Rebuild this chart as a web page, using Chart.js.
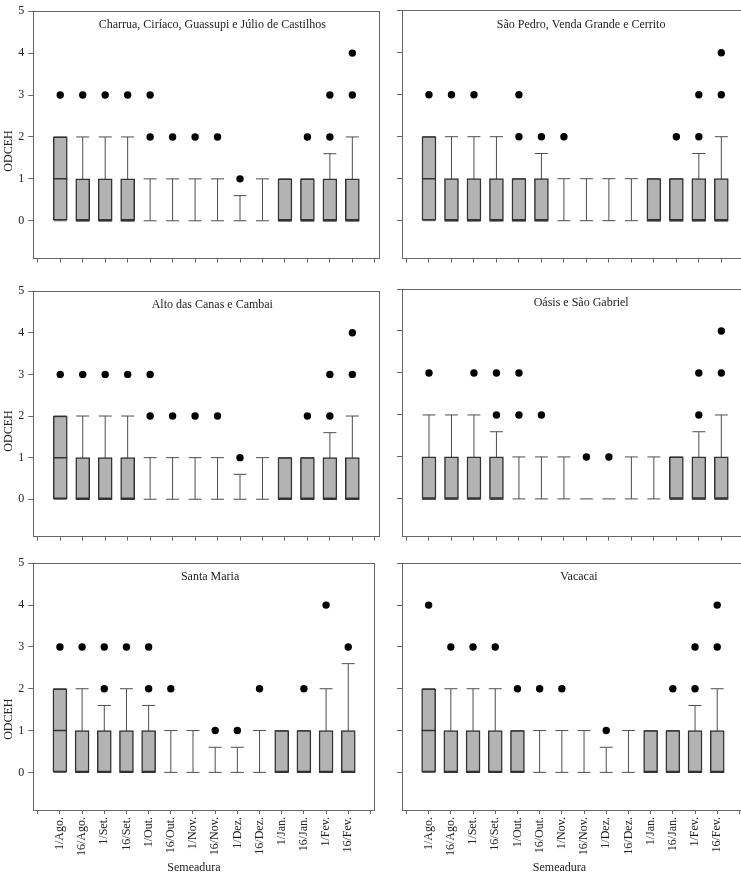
<!DOCTYPE html>
<html>
<head>
<meta charset="utf-8">
<script src="https://cdn.jsdelivr.net/npm/chart.js@4.4.1/dist/chart.umd.min.js"></script>
<style>
  html, body { margin: 0; padding: 0; background: #fff; }
  body { position: relative; width: 741px; height: 875px; overflow: hidden; }
  canvas { position: absolute; }
</style>
</head>
<body>
<script>
// sowing dates (x categories) and axis ticks
const categories = ['1/Ago.', '16/Ago.', '1/Set.', '16/Set.', '1/Out.', '16/Out.', '1/Nov.', '16/Nov.', '1/Dez.', '16/Dez.', '1/Jan.', '16/Jan.', '1/Fev.', '16/Fev.']
const yTicks = [0, 1, 2, 3, 4, 5]
const xTicks = [0, 1, 2, 3, 4, 5, 6, 7, 8, 9, 10, 11, 12, 13, 14, 15]

// Charrua, Ciríaco, Guassupi e Júlio de Castilhos
const charruaQ1 = [0, 0, 0, 0, 0, 0, 0, 0, 0, 0, 0, 0, 0, 0]
const charruaMedian = [1, 0, 0, 0, 0, 0, 0, 0, 0, 0, 0, 0, 0, 0]
const charruaQ3 = [2, 1, 1, 1, 0, 0, 0, 0, 0, 0, 1, 1, 1, 1]
const charruaLow = [0, 0, 0, 0, 0, 0, 0, 0, 0, 0, 0, 0, 0, 0]
const charruaHigh = [2, 2, 2, 2, 1, 1, 1, 1, 0.6, 1, 1, 1, 1.6, 2]
const charruaOutliers = [[3], [3], [3], [3], [2, 3], [2], [2], [2], [1], [], [], [2], [2, 3], [3, 4]]

// São Pedro, Venda Grande e Cerrito
const saoPedroQ1 = [0, 0, 0, 0, 0, 0, 0, 0, 0, 0, 0, 0, 0, 0]
const saoPedroMedian = [1, 0, 0, 0, 0, 0, 0, 0, 0, 0, 0, 0, 0, 0]
const saoPedroQ3 = [2, 1, 1, 1, 1, 1, 0, 0, 0, 0, 1, 1, 1, 1]
const saoPedroLow = [0, 0, 0, 0, 0, 0, 0, 0, 0, 0, 0, 0, 0, 0]
const saoPedroHigh = [2, 2, 2, 2, 1, 1.6, 1, 1, 1, 1, 1, 1, 1.6, 2]
const saoPedroOutliers = [[3], [3], [3], [], [2, 3], [2], [2], [], [], [], [], [2], [2, 3], [3, 4]]

// Alto das Canas e Cambai
const altoQ1 = [0, 0, 0, 0, 0, 0, 0, 0, 0, 0, 0, 0, 0, 0]
const altoMedian = [1, 0, 0, 0, 0, 0, 0, 0, 0, 0, 0, 0, 0, 0]
const altoQ3 = [2, 1, 1, 1, 0, 0, 0, 0, 0, 0, 1, 1, 1, 1]
const altoLow = [0, 0, 0, 0, 0, 0, 0, 0, 0, 0, 0, 0, 0, 0]
const altoHigh = [2, 2, 2, 2, 1, 1, 1, 1, 0.6, 1, 1, 1, 1.6, 2]
const altoOutliers = [[3], [3], [3], [3], [2, 3], [2], [2], [2], [1], [], [], [2], [2, 3], [3, 4]]

// Oásis e São Gabriel
const oasisQ1 = [0, 0, 0, 0, 0, 0, 0, 0, 0, 0, 0, 0, 0, 0]
const oasisMedian = [0, 0, 0, 0, 0, 0, 0, 0, 0, 0, 0, 0, 0, 0]
const oasisQ3 = [1, 1, 1, 1, 0, 0, 0, 0, 0, 0, 0, 1, 1, 1]
const oasisLow = [0, 0, 0, 0, 0, 0, 0, 0, 0, 0, 0, 0, 0, 0]
const oasisHigh = [2, 2, 2, 1.6, 1, 1, 1, 0, 0, 1, 1, 1, 1.6, 2]
const oasisOutliers = [[3], [], [3], [2, 3], [2, 3], [2], [], [1], [1], [], [], [], [2, 3], [3, 4]]

// Santa Maria
const santaMariaQ1 = [0, 0, 0, 0, 0, 0, 0, 0, 0, 0, 0, 0, 0, 0]
const santaMariaMedian = [1, 0, 0, 0, 0, 0, 0, 0, 0, 0, 0, 0, 0, 0]
const santaMariaQ3 = [2, 1, 1, 1, 1, 0, 0, 0, 0, 0, 1, 1, 1, 1]
const santaMariaLow = [0, 0, 0, 0, 0, 0, 0, 0, 0, 0, 0, 0, 0, 0]
const santaMariaHigh = [2, 2, 1.6, 2, 1.6, 1, 1, 0.6, 0.6, 1, 1, 1, 2, 2.6]
const santaMariaOutliers = [[3], [3], [2, 3], [3], [2, 3], [2], [], [1], [1], [2], [], [2], [4], [3]]

// Vacacai
const vacacaiQ1 = [0, 0, 0, 0, 0, 0, 0, 0, 0, 0, 0, 0, 0, 0]
const vacacaiMedian = [1, 0, 0, 0, 0, 0, 0, 0, 0, 0, 0, 0, 0, 0]
const vacacaiQ3 = [2, 1, 1, 1, 1, 0, 0, 0, 0, 0, 1, 1, 1, 1]
const vacacaiLow = [0, 0, 0, 0, 0, 0, 0, 0, 0, 0, 0, 0, 0, 0]
const vacacaiHigh = [2, 2, 2, 2, 1, 1, 1, 1, 0.6, 1, 1, 1, 1.6, 2]
const vacacaiOutliers = [[4], [3], [3], [3], [2], [2], [2], [], [1], [], [], [2], [2, 3], [3, 4]]

Chart.defaults.font.family = "'Liberation Serif', 'Times New Roman', serif"
Chart.defaults.font.size = 12
Chart.defaults.color = '#222'

// region name written inside the plot frame
const panelLabel = {
  id: 'panelLabel',
  afterDraw(chart, args, opts) {
    const { ctx, chartArea } = chart
    ctx.save()
    ctx.font = "12px 'Liberation Serif', 'Times New Roman', serif"
    ctx.fillStyle = '#222'
    ctx.textAlign = 'center'
    ctx.textBaseline = 'middle'
    ctx.fillText(opts.text, (chartArea.left + chartArea.right) / 2 + 6, chartArea.top + 14)
    ctx.restore()
  }
}

// grid placement of the six panels
const cols = [
  { left: 0, width: 388, yWidth: 17.6, showY: true },
  { left: 362, width: 395, yWidth: 40, showY: false }
]
const rows = [
  { top: 0, height: 292, padTop: 10.7, padBottom: 0.7, xHeight: 32.8, showX: false },
  { top: 280, height: 293, padTop: 9, padBottom: 0, xHeight: 36.3, showX: false },
  { top: 550, height: 325, padTop: 13.3, padBottom: 0, xHeight: 50.6, showX: true }
]

const panels = [
  { name: 'Charrua, Ciríaco, Guassupi e Júlio de Castilhos', q1: charruaQ1, median: charruaMedian, q3: charruaQ3, low: charruaLow, high: charruaHigh, outliers: charruaOutliers },
  { name: 'São Pedro, Venda Grande e Cerrito', q1: saoPedroQ1, median: saoPedroMedian, q3: saoPedroQ3, low: saoPedroLow, high: saoPedroHigh, outliers: saoPedroOutliers },
  { name: 'Alto das Canas e Cambai', q1: altoQ1, median: altoMedian, q3: altoQ3, low: altoLow, high: altoHigh, outliers: altoOutliers },
  { name: 'Oásis e São Gabriel', q1: oasisQ1, median: oasisMedian, q3: oasisQ3, low: oasisLow, high: oasisHigh, outliers: oasisOutliers },
  { name: 'Santa Maria', q1: santaMariaQ1, median: santaMariaMedian, q3: santaMariaQ3, low: santaMariaLow, high: santaMariaHigh, outliers: santaMariaOutliers },
  { name: 'Vacacai', q1: vacacaiQ1, median: vacacaiMedian, q3: vacacaiQ3, low: vacacaiLow, high: vacacaiHigh, outliers: vacacaiOutliers }
]

const frameColor = '#666'

function makePanel(p, row, col) {
  const canvas = document.createElement('canvas')
  canvas.width = col.width
  canvas.height = row.height
  canvas.style.left = col.left + 'px'
  canvas.style.top = row.top + 'px'
  document.body.appendChild(canvas)

  const boxes = [], medians = [], whiskers = [], caps = [], outliers = []
  categories.forEach((c, i) => {
    const x = i + 1
    if (p.q3[i] > p.q1[i]) {
      boxes.push({ x, y: [p.q1[i], p.q3[i]] })
      medians.push({ x, y: p.median[i] })
    }
    whiskers.push({ x, y: p.low[i] }, { x, y: p.high[i] }, { x, y: null })
    caps.push({ x, y: p.low[i] })
    if (p.high[i] !== p.low[i]) caps.push({ x, y: p.high[i] })
    p.outliers[i].forEach(v => outliers.push({ x, y: v }))
  })

  new Chart(canvas, {
    type: 'bar',
    data: {
      datasets: [
        { type: 'line', data: whiskers, borderColor: '#4d4d4d', borderWidth: 1, pointRadius: 0, spanGaps: false, order: 3, xAxisID: 'x', yAxisID: 'y' },
        { type: 'scatter', data: caps, pointStyle: 'line', pointRadius: 6.5, pointBorderColor: '#4d4d4d', pointBorderWidth: 1, order: 2, xAxisID: 'x', yAxisID: 'y' },
        { type: 'bar', data: boxes, backgroundColor: '#b3b3b3', borderColor: '#333', borderWidth: 1.5, borderSkipped: false, barThickness: 14, grouped: false, order: 1, xAxisID: 'x', yAxisID: 'y' },
        { type: 'scatter', data: medians, pointStyle: 'line', pointRadius: 7, pointBorderColor: '#333', pointBorderWidth: 1.5, order: 0, xAxisID: 'x', yAxisID: 'y' },
        { type: 'scatter', data: outliers, pointRadius: 3.7, pointBackgroundColor: '#000', pointBorderWidth: 0, order: 0, xAxisID: 'x', yAxisID: 'y' }
      ]
    },
    options: {
      responsive: false,
      animation: false,
      devicePixelRatio: 1,
      events: [],
      layout: { padding: { top: row.padTop, bottom: row.padBottom, left: 0, right: 0 } },
      plugins: {
        legend: { display: false },
        tooltip: { enabled: false },
        title: { display: col.showY, text: 'ODCEH', position: 'left', padding: { top: 1.3, bottom: 0 }, font: { size: 12, weight: 'normal' }, color: '#222' },
        subtitle: { display: row.showX, text: 'Semeadura', position: 'bottom', padding: 0, font: { size: 12 }, color: '#222' },
        panelLabel: { text: p.name }
      },
      scales: {
        x: {
          type: 'linear', position: 'bottom', min: -0.2, max: 15.2, offset: false,
          afterBuildTicks: s => { s.ticks = xTicks.map(v => ({ value: v })) },
          afterFit: s => { s.height = row.xHeight },
          grid: { offset: false, drawOnChartArea: false, tickLength: 4, color: frameColor },
          border: { color: frameColor },
          ticks: { display: row.showX, autoSkip: false, minRotation: 90, maxRotation: 90, padding: 3, callback: v => categories[v - 1] || '' }
        },
        y: {
          type: 'linear', position: 'left', min: -0.9, max: 5,
          afterBuildTicks: s => { s.ticks = yTicks.map(v => ({ value: v })) },
          afterFit: s => { s.width = col.yWidth },
          grid: { drawOnChartArea: false, tickLength: 5, color: frameColor },
          border: { color: frameColor },
          ticks: { display: col.showY, padding: 4 }
        },
        x2: {
          type: 'linear', position: 'top',
          afterFit: s => { s.height = 0 },
          grid: { drawOnChartArea: false, drawTicks: false },
          border: { color: frameColor },
          ticks: { display: false }
        },
        y2: {
          type: 'linear', position: 'right',
          afterFit: s => { s.width = 8.7 },
          grid: { drawOnChartArea: false, drawTicks: false },
          border: { color: frameColor },
          ticks: { display: false }
        }
      }
    },
    plugins: [panelLabel]
  })
}

panels.forEach((p, i) => makePanel(p, rows[Math.floor(i / 2)], cols[i % 2]))
</script>
</body>
</html>
